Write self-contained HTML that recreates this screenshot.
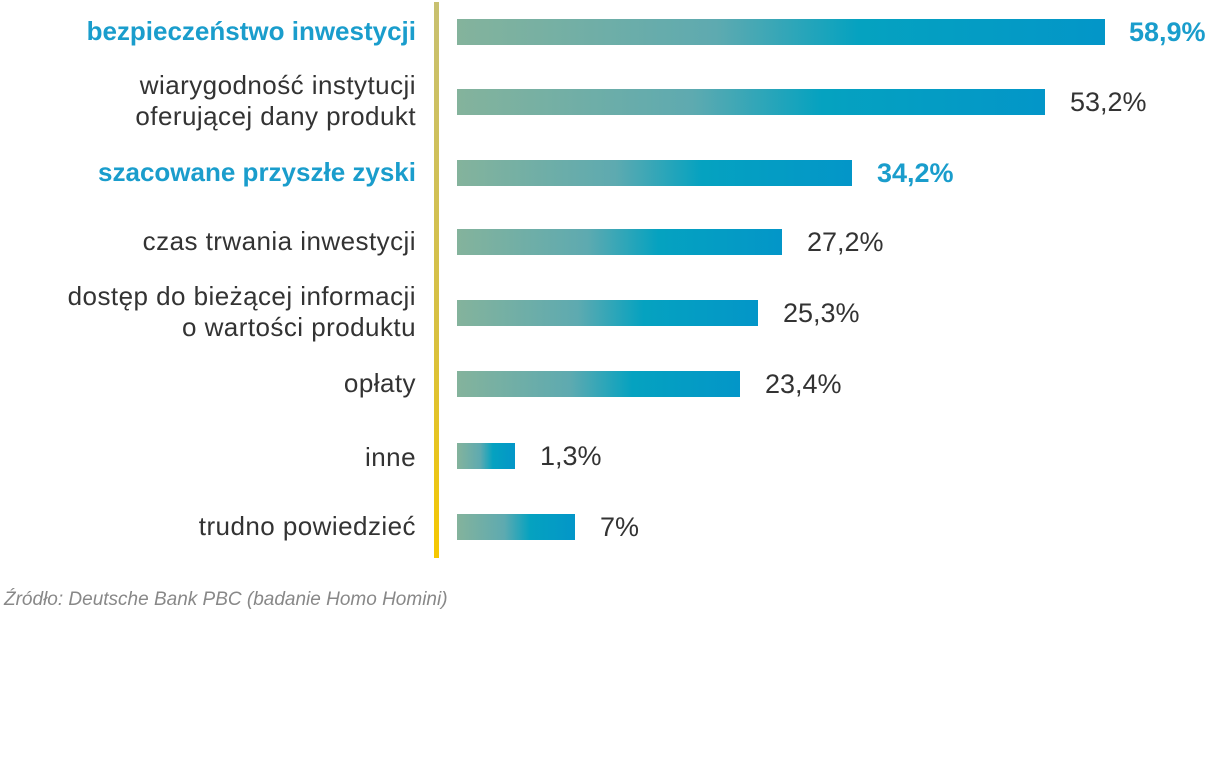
<!DOCTYPE html>
<html><head><meta charset="utf-8"><style>
body{margin:0;width:1220px;height:780px;background:#fff;position:relative;font-family:"Liberation Sans","DejaVu Sans",sans-serif;overflow:hidden}
.l{position:absolute;right:804px;text-align:right;font-size:26px;line-height:31px;color:#333;white-space:nowrap;letter-spacing:0.45px}
.b{position:absolute;left:457px;height:26px;background:linear-gradient(90deg,#84b39c 0%,#5eaab0 40%,#05a2c0 62%,#0396c8 100%)}
.v{position:absolute;font-size:27px;line-height:26px;color:#333}
.h{color:#1a9dcc !important;font-weight:bold;letter-spacing:0}
.line{position:absolute;left:434px;top:2px;width:5px;height:556px;background:linear-gradient(180deg,#c8c070 0%,#d8c040 60%,#f6c800 100%)}
.src{position:absolute;left:4px;top:589px;font-size:19px;font-style:italic;color:#888}
</style></head><body>
<div class="line"></div>
<div class="l h" style="top:16px">bezpieczeństwo inwestycji</div>
<div class="l" style="top:70px">wiarygodność instytucji<br>oferującej dany produkt</div>
<div class="l h" style="top:157px">szacowane przyszłe zyski</div>
<div class="l" style="top:226px">czas trwania inwestycji</div>
<div class="l" style="top:281px">dostęp do bieżącej informacji<br>o wartości produktu</div>
<div class="l" style="top:368px">opłaty</div>
<div class="l" style="top:442px">inne</div>
<div class="l" style="top:511px">trudno powiedzieć</div>

<div class="b" style="top:19px;width:648px"></div><div class="v h" style="top:19px;left:1129px">58,9%</div>
<div class="b" style="top:89px;width:588px"></div><div class="v" style="top:89px;left:1070px">53,2%</div>
<div class="b" style="top:160px;width:395px"></div><div class="v h" style="top:160px;left:877px">34,2%</div>
<div class="b" style="top:229px;width:325px"></div><div class="v" style="top:229px;left:807px">27,2%</div>
<div class="b" style="top:300px;width:301px"></div><div class="v" style="top:300px;left:783px">25,3%</div>
<div class="b" style="top:371px;width:283px"></div><div class="v" style="top:371px;left:765px">23,4%</div>
<div class="b" style="top:443px;width:58px"></div><div class="v" style="top:443px;left:540px">1,3%</div>
<div class="b" style="top:514px;width:118px"></div><div class="v" style="top:514px;left:600px">7%</div>
<div class="src">Źródło: Deutsche Bank PBC (badanie Homo Homini)</div>
</body></html>
